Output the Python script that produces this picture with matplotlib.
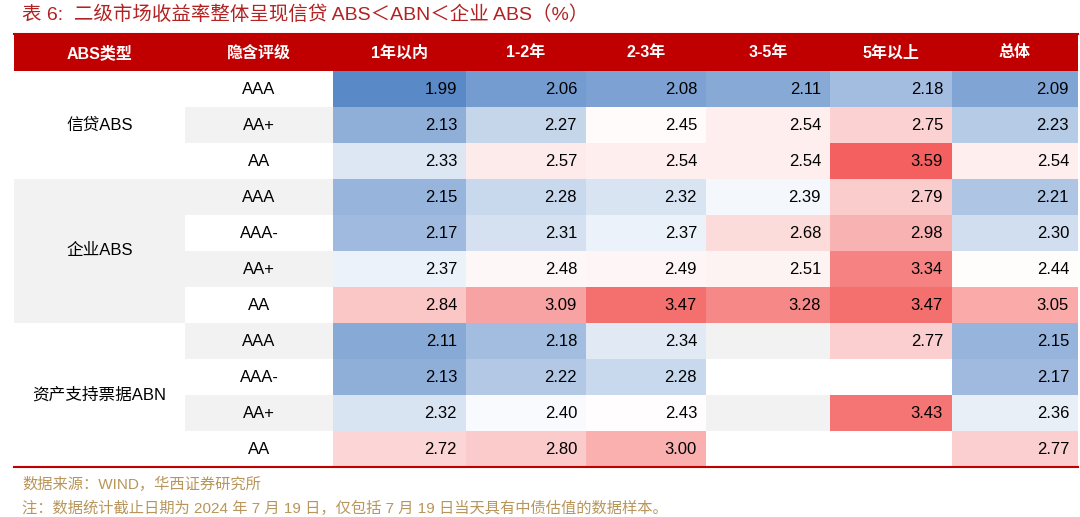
import matplotlib
matplotlib.use("Agg")
import matplotlib.pyplot as plt
from matplotlib.colors import LinearSegmentedColormap, TwoSlopeNorm
from matplotlib.patches import Rectangle
import numpy as np

plt.rcParams['font.family'] = ['Liberation Sans', 'Noto Sans CJK SC', 'DejaVu Sans']

title = "表 6:  二级市场收益率整体呈现信贷 ABS＜ABN＜企业 ABS（%）"
headers = ["ABS类型", "隐含评级", "1年以内", "1-2年", "2-3年", "3-5年", "5年以上", "总体"]
groups = ["信贷ABS", "企业ABS", "资产支持票据ABN"]
group_sizes = [3, 4, 4]
ratings = ["AAA", "AA+", "AA", "AAA", "AAA-", "AA+", "AA", "AAA", "AAA-", "AA+", "AA"]
N = np.nan
values = [
    [1.99, 2.06, 2.08, 2.11, 2.18, 2.09],
    [2.13, 2.27, 2.45, 2.54, 2.75, 2.23],
    [2.33, 2.57, 2.54, 2.54, 3.59, 2.54],
    [2.15, 2.28, 2.32, 2.39, 2.79, 2.21],
    [2.17, 2.31, 2.37, 2.68, 2.98, 2.30],
    [2.37, 2.48, 2.49, 2.51, 3.34, 2.44],
    [2.84, 3.09, 3.47, 3.28, 3.47, 3.05],
    [2.11, 2.18, 2.34, N, 2.77, 2.15],
    [2.13, 2.22, 2.28, N, N, 2.17],
    [2.32, 2.40, 2.43, N, 3.43, 2.36],
    [2.72, 2.80, 3.00, N, N, 2.77],
]
source = "数据来源：WIND，华西证券研究所"
note = "注：数据统计截止日期为 2024 年 7 月 19 日，仅包括 7 月 19 日当天具有中债估值的数据样本。"

cmap = LinearSegmentedColormap.from_list("bwr2", ["#5A89C7", "#FFFFFF", "#F3605F"])
norm = TwoSlopeNorm(vmin=1.99, vcenter=2.42, vmax=3.59)

W, H = 1080, 517
fig = plt.figure(figsize=(W / 100, H / 100), dpi=100)
ax = fig.add_axes([0, 0, 1, 1])
ax.set_xlim(0, W)
ax.set_ylim(H, 0)
ax.axis("off")

colx = [14, 185, 333, 466, 586, 706, 830, 952, 1078]
top_h, head_h, row_h = 35, 36, 36
red = "#C00000"
gray = "#F2F2F2"
title_col = "#B22222"
brown = "#B8955A"

ax.text(22, 15, title, fontsize=14, color=title_col, va="center", ha="left")
ax.plot([14, 1078], [top_h - 1, top_h - 1], color=red, lw=1.5)
ax.add_patch(Rectangle((colx[0], top_h), colx[-1] - colx[0], head_h, color=red, lw=0))
for i, h in enumerate(headers):
    ax.text((colx[i] + colx[i + 1]) / 2, top_h + head_h / 2, h, color="white",
            fontsize=11.5, fontweight="bold", ha="center", va="center")

y0 = top_h + head_h
for r in range(len(ratings)):
    y = y0 + r * row_h
    bg = gray if r % 2 == 1 else "white"
    ax.add_patch(Rectangle((colx[1], y), colx[-1] - colx[1], row_h, color=bg, lw=0))
    ax.text((colx[1] + colx[2]) / 2, y + row_h / 2, ratings[r], fontsize=12,
            ha="center", va="center", color="black")
    for c, v in enumerate(values[r]):
        if np.isnan(v):
            continue
        x = colx[c + 2]
        ax.add_patch(Rectangle((x, y), colx[c + 3] - x, row_h, color=cmap(norm(v)), lw=0))
        ax.text(colx[c + 3] - 9, y + row_h / 2, f"{v:.2f}", fontsize=12,
                ha="right", va="center", color="black")

start = 0
for gi, (g, n) in enumerate(zip(groups, group_sizes)):
    y = y0 + start * row_h
    if gi == 1:
        ax.add_patch(Rectangle((colx[0], y), colx[1] - colx[0], n * row_h, color=gray, lw=0))
    ax.text((colx[0] + colx[1]) / 2, y + n * row_h / 2, g, fontsize=12,
            ha="center", va="center", color="black")
    start += n

yb = y0 + len(ratings) * row_h
ax.plot([14, 1078], [yb, yb], color=red, lw=1.5)
ax.text(22, yb + 17, source, fontsize=11, color=brown, va="center")
ax.text(22, yb + 41, note, fontsize=11, color=brown, va="center")

fig.savefig("out.png", dpi=100)
